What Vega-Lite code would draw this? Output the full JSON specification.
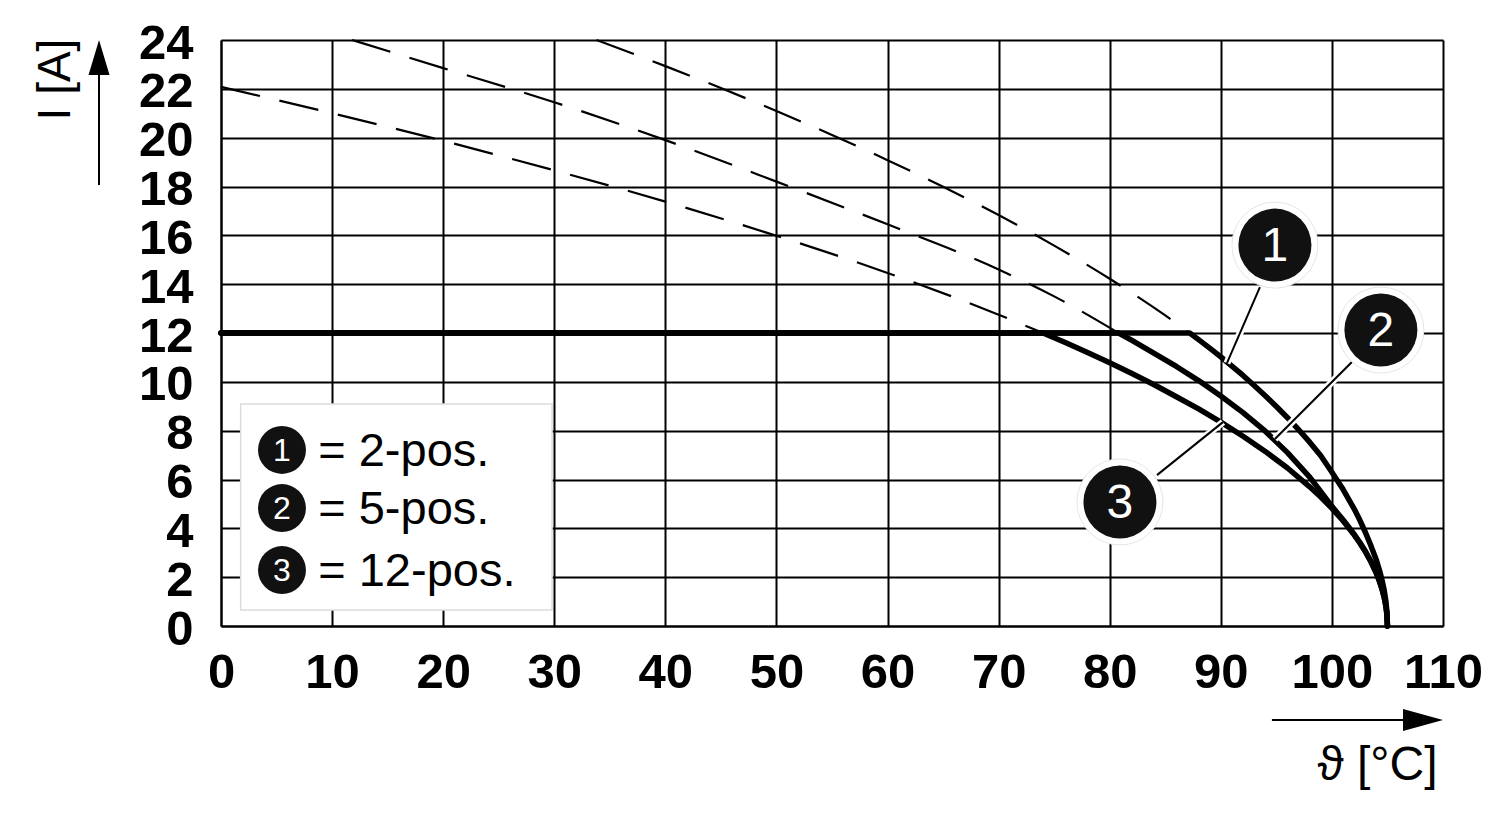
{
  "$schema": "https://vega.github.io/schema/vega-lite/v6.json",
  "width": 1222,
  "height": 586,
  "autosize": {"type": "none"},
  "padding": {"left": 221, "top": 40, "right": 57, "bottom": 195},
  "background": "white",
  "config": {
    "view": {"stroke": null},
    "font": "Liberation Sans",
    "axis": {
      "grid": true, "gridColor": "black", "gridWidth": 2, "gridOpacity": 1,
      "domainColor": "black", "domainWidth": 2, "ticks": false,
      "labelFont": "Liberation Sans", "labelFontWeight": "bold", "labelFontSize": 49, "labelColor": "black",
      "labelOverlap": false, "labelFlush": false, "labelBound": false,
      "titleFont": "Liberation Sans", "titleFontWeight": "normal", "titleFontSize": 46, "titleColor": "black"
    }
  },
  "datasets": {
    "dashed": [
      {"t": 33.8, "i": 24, "s": "1"}, {"t": 40, "i": 22.93, "s": "1"}, {"t": 45, "i": 22.03, "s": "1"}, {"t": 50, "i": 21.09, "s": "1"}, {"t": 55, "i": 20.11, "s": "1"}, {"t": 60, "i": 19.08, "s": "1"}, {"t": 65, "i": 17.99, "s": "1"}, {"t": 70, "i": 16.83, "s": "1"}, {"t": 75, "i": 15.58, "s": "1"}, {"t": 80, "i": 14.22, "s": "1"}, {"t": 85, "i": 12.72, "s": "1"}, {"t": 87.2, "i": 12, "s": "1"},
      {"t": 11.8, "i": 24, "s": "2"}, {"t": 20, "i": 22.85, "s": "2"}, {"t": 30, "i": 21.45, "s": "2"}, {"t": 40, "i": 19.9, "s": "2"}, {"t": 50, "i": 18.2, "s": "2"}, {"t": 60, "i": 16.45, "s": "2"}, {"t": 70, "i": 14.6, "s": "2"}, {"t": 75, "i": 13.5, "s": "2"}, {"t": 80.8, "i": 12, "s": "2"},
      {"t": 0, "i": 22.08, "s": "3"}, {"t": 10, "i": 21.0, "s": "3"}, {"t": 20, "i": 19.87, "s": "3"}, {"t": 30, "i": 18.66, "s": "3"}, {"t": 40, "i": 17.38, "s": "3"}, {"t": 50, "i": 15.98, "s": "3"}, {"t": 60, "i": 14.46, "s": "3"}, {"t": 70, "i": 12.75, "s": "3"}, {"t": 74, "i": 12, "s": "3"}
    ],
    "solid": [
      {"t": 0, "i": 12, "s": "1"}, {"t": 87.2, "i": 12, "s": "1"}, {"t": 88, "i": 11.73, "s": "1"}, {"t": 89, "i": 11.38, "s": "1"}, {"t": 90, "i": 11.02, "s": "1"}, {"t": 91, "i": 10.64, "s": "1"}, {"t": 92, "i": 10.26, "s": "1"}, {"t": 93, "i": 9.85, "s": "1"}, {"t": 94, "i": 9.43, "s": "1"}, {"t": 95, "i": 8.99, "s": "1"}, {"t": 96, "i": 8.53, "s": "1"}, {"t": 97, "i": 8.04, "s": "1"}, {"t": 98, "i": 7.53, "s": "1"}, {"t": 99, "i": 6.97, "s": "1"}, {"t": 100, "i": 6.3, "s": "1"}, {"t": 101, "i": 5.6, "s": "1"}, {"t": 102, "i": 4.8, "s": "1"}, {"t": 102.5, "i": 4.35, "s": "1"}, {"t": 103, "i": 3.85, "s": "1"}, {"t": 103.5, "i": 3.3, "s": "1"}, {"t": 104, "i": 2.7, "s": "1"}, {"t": 104.3, "i": 2.25, "s": "1"}, {"t": 104.5, "i": 1.9, "s": "1"}, {"t": 104.7, "i": 1.48, "s": "1"}, {"t": 104.85, "i": 1.05, "s": "1"}, {"t": 104.95, "i": 0.6, "s": "1"}, {"t": 105, "i": 0, "s": "1"},
      {"t": 0, "i": 12, "s": "2"}, {"t": 80.8, "i": 12, "s": "2"}, {"t": 82, "i": 11.7, "s": "2"}, {"t": 84, "i": 11.17, "s": "2"}, {"t": 86, "i": 10.63, "s": "2"}, {"t": 88, "i": 10.05, "s": "2"}, {"t": 90, "i": 9.42, "s": "2"}, {"t": 92, "i": 8.74, "s": "2"}, {"t": 94, "i": 7.98, "s": "2"}, {"t": 96, "i": 7.1, "s": "2"}, {"t": 98, "i": 6.1, "s": "2"}, {"t": 99, "i": 5.5, "s": "2"}, {"t": 100, "i": 4.9, "s": "2"}, {"t": 101, "i": 4.35, "s": "2"}, {"t": 102, "i": 3.76, "s": "2"}, {"t": 102.5, "i": 3.43, "s": "2"}, {"t": 103, "i": 3.07, "s": "2"}, {"t": 103.5, "i": 2.66, "s": "2"}, {"t": 104, "i": 2.18, "s": "2"}, {"t": 104.3, "i": 1.82, "s": "2"}, {"t": 104.5, "i": 1.54, "s": "2"}, {"t": 104.7, "i": 1.2, "s": "2"}, {"t": 104.85, "i": 0.85, "s": "2"}, {"t": 104.95, "i": 0.5, "s": "2"}, {"t": 105, "i": 0, "s": "2"},
      {"t": 0, "i": 12, "s": "3"}, {"t": 74, "i": 12, "s": "3"}, {"t": 76, "i": 11.61, "s": "3"}, {"t": 78, "i": 11.2, "s": "3"}, {"t": 80, "i": 10.78, "s": "3"}, {"t": 82, "i": 10.34, "s": "3"}, {"t": 84, "i": 9.88, "s": "3"}, {"t": 86, "i": 9.39, "s": "3"}, {"t": 88, "i": 8.89, "s": "3"}, {"t": 90, "i": 8.35, "s": "3"}, {"t": 92, "i": 7.77, "s": "3"}, {"t": 94, "i": 7.15, "s": "3"}, {"t": 96, "i": 6.47, "s": "3"}, {"t": 98, "i": 5.7, "s": "3"}, {"t": 99, "i": 5.28, "s": "3"}, {"t": 100, "i": 4.82, "s": "3"}, {"t": 101, "i": 4.31, "s": "3"}, {"t": 102, "i": 3.73, "s": "3"}, {"t": 102.5, "i": 3.41, "s": "3"}, {"t": 103, "i": 3.05, "s": "3"}, {"t": 103.5, "i": 2.64, "s": "3"}, {"t": 104, "i": 2.16, "s": "3"}, {"t": 104.3, "i": 1.8, "s": "3"}, {"t": 104.5, "i": 1.52, "s": "3"}, {"t": 104.7, "i": 1.18, "s": "3"}, {"t": 104.85, "i": 0.83, "s": "3"}, {"t": 104.95, "i": 0.48, "s": "3"}, {"t": 105, "i": 0, "s": "3"}
    ],
    "leaders": [
      {"x1": 93.52, "y1": 13.88, "x2": 90.55, "y2": 10.77},
      {"x1": 101.8, "y1": 10.81, "x2": 94.87, "y2": 7.66},
      {"x1": 84.25, "y1": 6.18, "x2": 90.19, "y2": 8.35}
    ],
    "badges": [
      {"x": 94.87, "y": 15.6, "label": "1"},
      {"x": 104.41, "y": 12.12, "label": "2"},
      {"x": 80.92, "y": 5.08, "label": "3"}
    ],
    "legendItems": [
      {"x": 5.49, "tx": 8.75, "y": 7.21, "label": "1", "text": "= 2-pos."},
      {"x": 5.49, "tx": 8.75, "y": 4.83, "label": "2", "text": "= 5-pos."},
      {"x": 5.49, "tx": 8.75, "y": 2.29, "label": "3", "text": "= 12-pos."}
    ],
    "legendBox": [{"x1": 1.77, "x2": 29.8, "y1": 0.66, "y2": 9.09}],
    "arrowShafts": [
      {"x1": -10.98, "y1": 18.06, "x2": -10.98, "y2": 22.8},
      {"x1": 94.6, "y1": -3.85, "x2": 108.5, "y2": -3.85}
    ],
    "arrowUp": [{"x": -10.98, "y": 24}],
    "arrowRight": [{"x": 110, "y": -3.85}]
  },
  "layer": [
    {
      "data": {"name": "legendBox"},
      "mark": {"type": "rect", "fill": "white", "stroke": "#dcdcdc", "strokeWidth": 1.5},
      "encoding": {
        "x": {"field": "x1", "type": "quantitative", "scale": {"domain": [0, 110], "nice": false, "zero": false},
          "axis": {"values": [0,10,20,30,40,50,60,70,80,90,100,110], "labelPadding": 22, "title": "ϑ [°C]", "titleX": 1156, "titleY": 139, "titleAlign": "center", "titleBaseline": "middle", "titleFontSize": 48}},
        "x2": {"field": "x2"},
        "y": {"field": "y1", "type": "quantitative", "scale": {"domain": [0, 24], "nice": false, "zero": false},
          "axis": {"values": [0,2,4,6,8,10,12,14,16,18,20,22,24], "labelPadding": 28, "labelOffset": 3, "title": "I [A]", "titleX": -166, "titleY": 39, "titleAngle": -90, "titleAlign": "center", "titleBaseline": "middle"}},
        "y2": {"field": "y2"}
      }
    },
    {
      "data": {"name": "dashed"},
      "mark": {"type": "line", "color": "black", "strokeWidth": 2.2, "strokeDash": [40, 20], "interpolate": "monotone"},
      "encoding": {
        "x": {"field": "t", "type": "quantitative"},
        "y": {"field": "i", "type": "quantitative"},
        "detail": {"field": "s"}
      }
    },
    {
      "data": {"name": "solid"},
      "mark": {"type": "line", "color": "black", "strokeWidth": 5.5, "strokeCap": "round", "strokeJoin": "round"},
      "encoding": {
        "x": {"field": "t", "type": "quantitative"},
        "y": {"field": "i", "type": "quantitative"},
        "detail": {"field": "s"}
      }
    },
    {
      "data": {"name": "leaders"},
      "mark": {"type": "rule", "color": "white", "strokeWidth": 7},
      "encoding": {
        "x": {"field": "x1", "type": "quantitative"}, "y": {"field": "y1", "type": "quantitative"},
        "x2": {"field": "x2"}, "y2": {"field": "y2"}
      }
    },
    {
      "data": {"name": "leaders"},
      "mark": {"type": "rule", "color": "black", "strokeWidth": 2},
      "encoding": {
        "x": {"field": "x1", "type": "quantitative"}, "y": {"field": "y1", "type": "quantitative"},
        "x2": {"field": "x2"}, "y2": {"field": "y2"}
      }
    },
    {
      "data": {"name": "badges"},
      "mark": {"type": "point", "shape": "circle", "filled": true, "color": "white", "size": 7400, "opacity": 1, "stroke": "#e6e6e6", "strokeWidth": 1},
      "encoding": {"x": {"field": "x", "type": "quantitative"}, "y": {"field": "y", "type": "quantitative"}}
    },
    {
      "data": {"name": "badges"},
      "mark": {"type": "point", "shape": "circle", "filled": true, "color": "#111111", "size": 5330, "opacity": 1},
      "encoding": {"x": {"field": "x", "type": "quantitative"}, "y": {"field": "y", "type": "quantitative"}}
    },
    {
      "data": {"name": "badges"},
      "mark": {"type": "text", "color": "white", "fontSize": 48, "font": "Liberation Sans", "align": "center", "baseline": "middle", "dy": 2},
      "encoding": {"x": {"field": "x", "type": "quantitative"}, "y": {"field": "y", "type": "quantitative"}, "text": {"field": "label"}}
    },
    {
      "data": {"name": "legendItems"},
      "mark": {"type": "point", "shape": "circle", "filled": true, "color": "#111111", "size": 2300, "opacity": 1},
      "encoding": {"x": {"field": "x", "type": "quantitative"}, "y": {"field": "y", "type": "quantitative"}}
    },
    {
      "data": {"name": "legendItems"},
      "mark": {"type": "text", "color": "white", "fontSize": 32, "font": "Liberation Sans", "align": "center", "baseline": "middle", "dy": 1},
      "encoding": {"x": {"field": "x", "type": "quantitative"}, "y": {"field": "y", "type": "quantitative"}, "text": {"field": "label"}}
    },
    {
      "data": {"name": "legendItems"},
      "mark": {"type": "text", "color": "black", "fontSize": 47, "font": "Liberation Sans", "align": "left", "baseline": "middle", "dy": 2},
      "encoding": {"x": {"field": "tx", "type": "quantitative"}, "y": {"field": "y", "type": "quantitative"}, "text": {"field": "text"}}
    },
    {
      "data": {"name": "arrowShafts"},
      "mark": {"type": "rule", "color": "black", "strokeWidth": 2},
      "encoding": {
        "x": {"field": "x1", "type": "quantitative"}, "y": {"field": "y1", "type": "quantitative"},
        "x2": {"field": "x2"}, "y2": {"field": "y2"}
      }
    },
    {
      "data": {"name": "arrowUp"},
      "mark": {"type": "point", "shape": "M0,0L-0.6,2L0.6,2Z", "filled": true, "color": "black", "size": 1225, "opacity": 1},
      "encoding": {"x": {"field": "x", "type": "quantitative"}, "y": {"field": "y", "type": "quantitative"}}
    },
    {
      "data": {"name": "arrowRight"},
      "mark": {"type": "point", "shape": "M0,0L-2,-0.55L-2,0.55Z", "filled": true, "color": "black", "size": 1600, "opacity": 1},
      "encoding": {"x": {"field": "x", "type": "quantitative"}, "y": {"field": "y", "type": "quantitative"}}
    }
  ]
}
